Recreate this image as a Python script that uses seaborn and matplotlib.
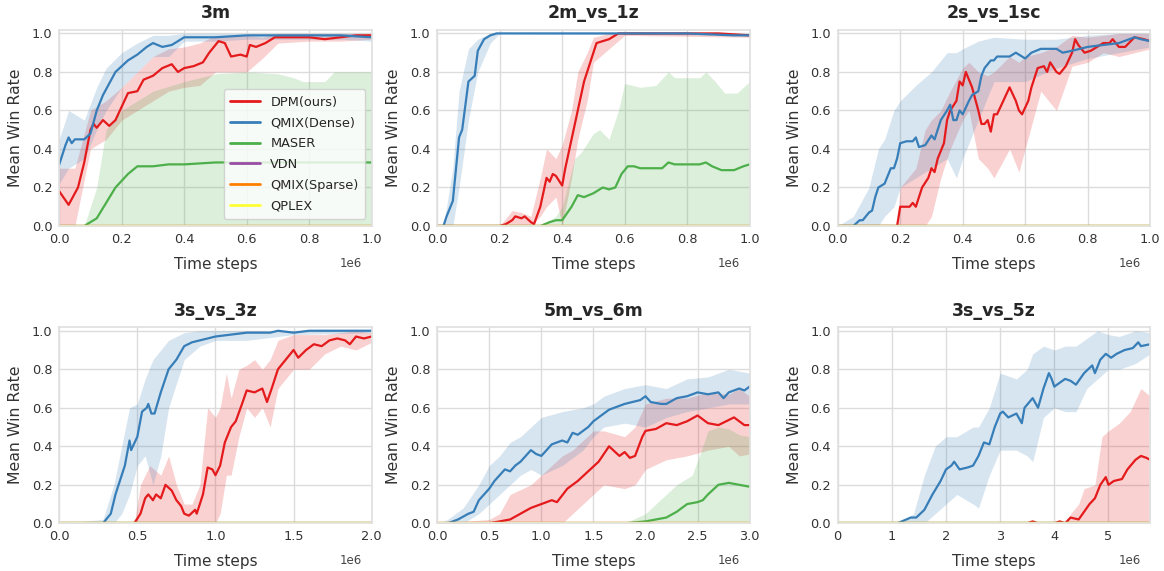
import numpy as np
import matplotlib
matplotlib.use("Agg")
import matplotlib.pyplot as plt
import seaborn as sns

# ---------------- data (x in units of 1e6 time steps) ----------------
titles = ["3m", "2m_vs_1z", "2s_vs_1sc", "3s_vs_3z", "5m_vs_6m", "3s_vs_5z"]
labels = ["DPM(ours)", "QMIX(Dense)", "MASER", "VDN", "QMIX(Sparse)", "QPLEX"]
x_max = [1.0, 1.0, 1.0, 2.0, 3.0, 5.77]
x_step = [0.2, 0.2, 0.2, 0.5, 0.5, 1.0]
zero_y = [0.0, 0.0]

# --- 3m ---
m3_red_x = [0, .03, .06, .08, .10, .11, .12, .14, .16, .18, .20, .22, .25, .27, .30, .33, .36, .38, .40, .43, .46, .48, .51, .53, .55, .58, .60, .61, .63, .66, .69, .72, .80, .85, .90, .95, 1.0]
m3_red_y = [.18, .11, .20, .33, .50, .53, .51, .55, .52, .55, .62, .69, .70, .76, .78, .82, .84, .80, .82, .83, .85, .90, .96, .95, .88, .89, .88, .94, .93, .95, .98, .98, .98, .97, .98, .99, .99]
m3_red_bx = [0, .05, .10, .15, .20, .25, .30, .35, .40, .45, .50, .55, .60, .65, .70, .80, .90, 1.0]
m3_red_lo = [0, 0, .40, .45, .55, .60, .65, .70, .72, .73, .80, .80, .80, .87, .95, .96, .96, .97]
m3_red_hi = [.30, .30, .60, .65, .72, .80, .88, .92, .93, .95, .99, .99, .99, .98, 1.0, 1.0, 1.0, 1.0]
m3_blue_x = [0, .02, .03, .04, .05, .08, .10, .12, .14, .16, .18, .20, .22, .25, .28, .30, .33, .36, .40, .45, .50, .60, .70, .80, .90, 1.0]
m3_blue_y = [.32, .42, .46, .43, .45, .45, .48, .60, .68, .74, .80, .83, .86, .89, .93, .95, .93, .94, .98, .98, .98, .99, .99, .99, .99, .98]
m3_blue_bx = [0, .03, .08, .12, .15, .20, .25, .30, .35, .40, .50, .60, .70, .80, .90, 1.0]
m3_blue_lo = [.22, .30, .35, .50, .60, .72, .80, .88, .88, .96, .96, .97, .97, .97, .97, .96]
m3_blue_hi = [.45, .60, .55, .72, .82, .90, .95, .99, .99, 1.0, 1.0, 1.0, 1.0, 1.0, 1.0, 1.0]
m3_green_x = [0, .08, .10, .12, .15, .18, .22, .25, .30, .35, .40, .50, .60, .70, .80, .90, 1.0]
m3_green_y = [0, 0, .02, .04, .12, .20, .27, .31, .31, .32, .32, .33, .33, .33, .33, .33, .33]
m3_green_bx = [0, .08, .12, .15, .20, .30, .40, .50, .60, .70, .75, .78, .85, .88, 1.0]
m3_green_lo = [0, 0, 0, 0, 0, 0, 0, 0, 0, 0, 0, 0, 0, 0, 0]
m3_green_hi = [0, 0, .20, .50, .60, .70, .75, .79, .80, .79, .77, .75, .75, .80, .80]

# --- 2m_vs_1z ---
z1_blue_x = [0, .02, .03, .05, .07, .08, .10, .12, .13, .15, .17, .19, .30, .50, .80, .95, 1.0]
z1_blue_y = [0, 0, .05, .13, .46, .50, .75, .78, .91, .97, .99, 1.0, 1.0, 1.0, 1.0, .99, .99]
z1_blue_bx = [0, .02, .05, .07, .10, .13, .17, .20, 1.0]
z1_blue_lo = [0, 0, 0, .20, .55, .80, .95, 1.0, .99]
z1_blue_hi = [0, 0, .30, .70, .92, .97, 1.0, 1.0, 1.0]
z1_red_x = [0, .20, .22, .24, .25, .27, .28, .30, .31, .33, .35, .36, .37, .38, .40, .41, .43, .45, .47, .48, .51, .53, .55, .58, .70, .90, 1.0]
z1_red_y = [0, 0, .01, .03, .05, .04, .05, .02, .01, .10, .25, .23, .27, .26, .21, .30, .45, .60, .75, .80, .95, .96, .97, 1.0, 1.0, 1.0, .99]
z1_red_bx = [0, .20, .24, .27, .30, .33, .35, .38, .40, .43, .45, .48, .50, .55, .60, 1.0]
z1_red_lo = [0, 0, 0, 0, 0, .05, .10, .15, 0, .25, .45, .65, .85, .92, .99, .98]
z1_red_hi = [0, 0, .08, .07, .05, .25, .40, .35, .42, .60, .80, .90, .98, 1.0, 1.0, 1.0]
z1_green_x = [0, .33, .36, .38, .40, .43, .45, .47, .50, .53, .55, .57, .59, .61, .63, .65, .72, .74, .76, .84, .86, .88, .91, .95, .98, 1.0]
z1_green_y = [0, 0, .02, .03, .03, .10, .16, .15, .17, .20, .19, .20, .27, .31, .31, .30, .30, .33, .32, .32, .33, .31, .29, .29, .31, .32]
z1_green_bx = [0, .33, .38, .40, .44, .46, .50, .52, .55, .58, .60, .65, .70, .74, .76, .84, .86, .89, .92, .96, 1.0]
z1_green_lo = [0, 0, 0, 0, 0, 0, 0, 0, 0, 0, 0, 0, 0, 0, 0, 0, 0, 0, 0, 0, 0]
z1_green_hi = [0, 0, .05, .10, .35, .38, .48, .50, .45, .60, .74, .72, .73, .80, .77, .77, .80, .75, .69, .69, .75]

# --- 2s_vs_1sc ---
sc_blue_x = [0, .05, .07, .08, .10, .11, .12, .13, .15, .17, .18, .19, .20, .22, .24, .25, .26, .28, .30, .31, .33, .35, .36, .37, .38, .39, .40, .42, .43, .45, .46, .47, .49, .50, .51, .55, .57, .58, .60, .62, .65, .70, .72, .75, .80, .85, .90, .95, .97, 1.0]
sc_blue_y = [0, 0, .03, .03, .07, .08, .15, .20, .22, .30, .30, .35, .43, .44, .44, .46, .41, .42, .47, .45, .55, .60, .63, .55, .55, .60, .58, .65, .68, .70, .78, .82, .86, .86, .88, .88, .90, .89, .87, .90, .92, .92, .90, .91, .93, .94, .95, .98, .97, .96]
sc_blue_bx = [0, .05, .10, .13, .15, .18, .20, .25, .30, .35, .38, .40, .45, .50, .60, .70, .80, .90, 1.0]
sc_blue_lo = [0, 0, 0, 0, .05, .10, .20, .25, .30, .35, .25, .35, .55, .75, .75, .82, .87, .90, .93]
sc_blue_hi = [0, .05, .20, .40, .45, .60, .65, .73, .80, .90, .90, .92, .96, .98, .97, .97, .99, 1.0, 1.0]
sc_red_x = [0, .19, .20, .23, .24, .25, .26, .27, .29, .30, .31, .32, .34, .35, .36, .38, .39, .40, .41, .43, .45, .46, .47, .48, .49, .50, .51, .53, .55, .57, .58, .59, .61, .62, .64, .66, .67, .68, .70, .71, .73, .75, .76, .77, .79, .81, .83, .85, .87, .88, .90, .92, .95, .98, 1.0]
sc_red_y = [0, 0, .10, .10, .12, .10, .15, .20, .25, .30, .28, .35, .43, .55, .60, .65, .75, .73, .80, .72, .60, .53, .53, .55, .49, .58, .58, .65, .72, .65, .60, .58, .65, .72, .82, .83, .80, .85, .80, .79, .83, .90, .97, .94, .90, .91, .93, .95, .95, .97, .93, .93, .98, .97, .96]
sc_red_bx = [.19, .20, .25, .28, .30, .33, .36, .40, .42, .45, .48, .50, .55, .58, .60, .65, .70, .75, .80, .85, .90, 1.0]
sc_red_lo = [0, 0, 0, 0, .05, .25, .40, .55, .60, .35, .30, .25, .40, .28, .40, .70, .60, .83, .85, .90, .88, .92]
sc_red_hi = [0, .20, .30, .50, .55, .60, .70, .82, .85, .80, .78, .80, .88, .85, .88, .90, .93, .99, .98, .99, 1.0, 1.0]

# --- 3s_vs_3z ---
s3_blue_x = [0, .28, .33, .36, .40, .42, .45, .46, .50, .53, .56, .57, .59, .61, .65, .70, .75, .80, .85, .90, 1.0, 1.1, 1.2, 1.35, 1.4, 1.5, 1.6, 1.8, 2.0]
s3_blue_y = [0, 0, .05, .15, .25, .30, .43, .38, .45, .58, .60, .62, .57, .57, .68, .80, .85, .92, .94, .95, .97, .98, .99, .99, 1.0, .99, 1.0, 1.0, 1.0]
s3_blue_bx = [0, .28, .35, .40, .45, .50, .55, .60, .65, .70, .80, .90, 1.0, 1.2, 1.5, 2.0]
s3_blue_lo = [0, 0, 0, .05, .15, .30, .35, .20, .35, .60, .85, .92, .95, .95, .98, .99]
s3_blue_hi = [0, .02, .20, .40, .60, .62, .75, .85, .90, .95, .99, 1.0, 1.0, 1.0, 1.0, 1.0]
s3_red_x = [0, .48, .52, .55, .57, .60, .62, .65, .68, .72, .75, .78, .80, .83, .87, .88, .92, .95, .98, 1.0, 1.03, 1.06, 1.1, 1.13, 1.17, 1.2, 1.25, 1.3, 1.33, 1.36, 1.4, 1.45, 1.5, 1.53, 1.58, 1.63, 1.68, 1.73, 1.78, 1.83, 1.86, 1.9, 1.95, 2.0]
s3_red_y = [0, 0, .05, .13, .15, .12, .15, .13, .20, .17, .12, .09, .05, .04, .07, .05, .15, .29, .28, .25, .30, .42, .50, .53, .62, .69, .68, .70, .63, .70, .80, .85, .90, .86, .90, .93, .92, .95, .96, .95, .93, .97, .96, .97]
s3_red_bx = [0, .48, .52, .58, .65, .70, .75, .80, .85, .90, .95, 1.0, 1.03, 1.07, 1.1, 1.15, 1.2, 1.25, 1.3, 1.35, 1.4, 1.5, 1.6, 1.7, 1.8, 1.9, 2.0]
s3_red_lo = [0, 0, 0, 0, 0, 0, 0, 0, 0, 0, 0, 0, .05, .25, .25, .45, .60, .55, .60, .50, .70, .80, .80, .88, .92, .90, .94]
s3_red_hi = [0, 0, .20, .30, .25, .35, .20, .10, .10, .20, .60, .55, .60, .78, .65, .80, .82, .85, .80, .85, .95, .98, .98, .98, .99, 1.0, .99]

# --- 5m_vs_6m ---
m5_blue_x = [0, .10, .20, .30, .35, .40, .50, .55, .65, .70, .75, .80, .85, .90, .95, 1.0, 1.05, 1.1, 1.2, 1.25, 1.3, 1.35, 1.45, 1.5, 1.55, 1.65, 1.7, 1.8, 1.95, 2.0, 2.05, 2.15, 2.2, 2.3, 2.4, 2.5, 2.6, 2.7, 2.75, 2.8, 2.9, 2.95, 3.0]
m5_blue_y = [0, 0, .02, .05, .06, .12, .18, .22, .28, .27, .30, .32, .35, .38, .36, .35, .38, .41, .43, .42, .47, .46, .50, .53, .55, .59, .60, .62, .64, .66, .63, .62, .62, .65, .66, .68, .67, .68, .65, .68, .70, .69, .71]
m5_blue_bx = [0, .10, .25, .40, .50, .60, .70, .80, .90, 1.0, 1.2, 1.4, 1.5, 1.6, 1.8, 2.0, 2.2, 2.4, 2.6, 2.8, 3.0]
m5_blue_lo = [0, 0, 0, .05, .10, .15, .20, .25, .28, .25, .30, .38, .45, .50, .52, .50, .55, .58, .60, .62, .62]
m5_blue_hi = [0, .02, .08, .20, .30, .35, .42, .45, .50, .55, .58, .60, .62, .66, .70, .72, .70, .75, .76, .80, .78]
m5_red_x = [0, .50, .60, .70, .80, .90, 1.0, 1.1, 1.15, 1.25, 1.35, 1.45, 1.55, 1.6, 1.65, 1.75, 1.8, 1.85, 1.9, 1.97, 2.0, 2.1, 2.2, 2.3, 2.4, 2.5, 2.6, 2.7, 2.85, 2.95, 3.0]
m5_red_y = [0, 0, .01, .02, .05, .08, .10, .12, .11, .18, .22, .27, .32, .36, .40, .35, .37, .34, .35, .45, .48, .49, .52, .51, .53, .56, .52, .51, .55, .51, .51]
m5_red_bx = [0, .50, .60, .70, .90, 1.0, 1.2, 1.3, 1.5, 1.6, 1.8, 1.9, 2.0, 2.2, 2.4, 2.6, 2.8, 2.9, 3.0]
m5_red_lo = [0, 0, 0, 0, 0, 0, 0, .05, .15, .20, .18, .20, .28, .33, .35, .38, .40, .35, .36]
m5_red_hi = [0, .02, .05, .15, .20, .25, .35, .38, .48, .48, .45, .50, .62, .65, .65, .68, .67, .70, .66]
m5_green_x = [0, 1.8, 2.0, 2.1, 2.2, 2.3, 2.4, 2.5, 2.55, 2.6, 2.7, 2.8, 2.9, 3.0]
m5_green_y = [0, 0, .01, .02, .03, .06, .10, .11, .12, .15, .20, .21, .20, .19]
m5_green_bx = [0, 1.8, 2.0, 2.1, 2.3, 2.45, 2.55, 2.6, 2.7, 2.8, 2.9, 3.0]
m5_green_lo = [0, 0, 0, 0, 0, 0, 0, 0, 0, 0, 0, 0]
m5_green_hi = [0, 0, .05, .10, .20, .25, .40, .48, .50, .49, .46, .45]

# --- 3s_vs_5z ---
z5_blue_x = [0, 1.10, 1.35, 1.45, 1.60, 1.75, 1.90, 2.00, 2.10, 2.15, 2.25, 2.40, 2.50, 2.60, 2.70, 2.80, 2.90, 3.00, 3.05, 3.15, 3.30, 3.40, 3.45, 3.60, 3.70, 3.80, 3.90, 3.95, 4.00, 4.20, 4.30, 4.40, 4.55, 4.70, 4.75, 4.85, 4.95, 5.05, 5.15, 5.30, 5.45, 5.55, 5.60, 5.77]
z5_blue_y = [0, 0, .03, .03, .07, .15, .22, .28, .30, .32, .28, .29, .30, .35, .42, .41, .50, .57, .58, .55, .57, .52, .60, .65, .60, .70, .78, .75, .71, .75, .74, .72, .78, .82, .78, .85, .88, .86, .88, .90, .91, .94, .92, .93]
z5_blue_bx = [0, 1.10, 1.40, 1.60, 1.80, 2.00, 2.20, 2.50, 2.60, 2.80, 3.00, 3.30, 3.50, 3.60, 3.80, 4.00, 4.20, 4.40, 4.60, 4.80, 5.00, 5.20, 5.50, 5.77]
z5_blue_lo = [0, 0, 0, 0, .05, .10, .15, .10, .08, .25, .38, .38, .35, .32, .55, .60, .58, .58, .70, .75, .80, .80, .83, .88]
z5_blue_hi = [0, 0, .05, .25, .40, .45, .45, .50, .50, .60, .78, .75, .80, .88, .92, .90, .92, .92, .96, 1.0, .98, .97, 1.0, .99]
z5_red_x = [0, 3.50, 3.60, 3.70, 4.00, 4.10, 4.20, 4.30, 4.45, 4.55, 4.65, 4.75, 4.85, 4.95, 5.00, 5.10, 5.25, 5.35, 5.50, 5.60, 5.70, 5.77]
z5_red_y = [0, 0, .01, 0, 0, .01, 0, .03, .02, .06, .10, .13, .20, .24, .20, .22, .23, .28, .33, .35, .34, .33]
z5_red_bx = [0, 4.20, 4.30, 4.45, 4.55, 4.75, 4.88, 5.00, 5.20, 5.40, 5.60, 5.77]
z5_red_lo = [0, 0, 0, 0, 0, 0, 0, 0, 0, 0, 0, 0]
z5_red_hi = [0, 0, .05, .10, .18, .20, .45, .48, .52, .58, .70, .66]

# panel -> list of (series index, x, y, band x, band lo, band hi)
panels = [
    [(0, m3_red_x, m3_red_y, m3_red_bx, m3_red_lo, m3_red_hi),
     (1, m3_blue_x, m3_blue_y, m3_blue_bx, m3_blue_lo, m3_blue_hi),
     (2, m3_green_x, m3_green_y, m3_green_bx, m3_green_lo, m3_green_hi)],
    [(0, z1_red_x, z1_red_y, z1_red_bx, z1_red_lo, z1_red_hi),
     (1, z1_blue_x, z1_blue_y, z1_blue_bx, z1_blue_lo, z1_blue_hi),
     (2, z1_green_x, z1_green_y, z1_green_bx, z1_green_lo, z1_green_hi)],
    [(0, sc_red_x, sc_red_y, sc_red_bx, sc_red_lo, sc_red_hi),
     (1, sc_blue_x, sc_blue_y, sc_blue_bx, sc_blue_lo, sc_blue_hi)],
    [(0, s3_red_x, s3_red_y, s3_red_bx, s3_red_lo, s3_red_hi),
     (1, s3_blue_x, s3_blue_y, s3_blue_bx, s3_blue_lo, s3_blue_hi)],
    [(0, m5_red_x, m5_red_y, m5_red_bx, m5_red_lo, m5_red_hi),
     (1, m5_blue_x, m5_blue_y, m5_blue_bx, m5_blue_lo, m5_blue_hi),
     (2, m5_green_x, m5_green_y, m5_green_bx, m5_green_lo, m5_green_hi)],
    [(0, z5_red_x, z5_red_y, z5_red_bx, z5_red_lo, z5_red_hi),
     (1, z5_blue_x, z5_blue_y, z5_blue_bx, z5_blue_lo, z5_blue_hi)],
]

# ---------------- plotting ----------------
sns.set_theme(style="whitegrid")
plt.rcParams['font.family'] = ['DejaVu Sans']
plt.rcParams['grid.color'] = '#dcdcdc'

palette = sns.color_palette("Set1", 6)
SCALE = 1e6

fig, axes = plt.subplots(2, 3, figsize=(11.64, 5.71), dpi=100)
col_left = [0.0509, 0.3756, 0.7197]
row_bottom = [0.6042, 0.0835]
ax_w, ax_h = 0.2684, 0.3440
for r in range(2):
    for c in range(3):
        axes[r, c].set_position([col_left[c], row_bottom[r], ax_w, ax_h])

for k, ax in enumerate(axes.flat):
    present = {p[0]: p for p in panels[k]}
    for s in range(6):
        c = palette[s]
        if s in present:
            _, x, y, bx, lo, hi = present[s]
            ax.fill_between(np.asarray(bx) * SCALE, lo, hi, color=c, alpha=0.2, linewidth=0)
            sns.lineplot(x=np.asarray(x) * SCALE, y=y, ax=ax, color=c, linewidth=1.6,
                         label=labels[s], legend=False)
        else:
            sns.lineplot(x=[0, x_max[k] * SCALE], y=zero_y, ax=ax, color=c, linewidth=1.6,
                         label=labels[s], legend=False)
    ax.set_xlim(0, x_max[k] * SCALE)
    ax.set_ylim(0, 1.02)
    ax.set_xticks(np.arange(0, x_max[k] + 1e-9, x_step[k]) * SCALE)
    ax.set_yticks([0, 0.2, 0.4, 0.6, 0.8, 1.0])
    ax.tick_params(labelsize=9.3, length=0, pad=5, colors='#333333')
    ax.xaxis.OFFSETTEXTPAD = 8
    off = ax.xaxis.get_offset_text()
    off.set_fontsize(8.5)
    off.set_color('#444444')
    off.set_x(0.97)
    ax.set_xlabel("Time steps", fontsize=11, color='#333333', labelpad=8)
    ax.set_ylabel("Mean Win Rate", fontsize=11.3, color='#333333', labelpad=6)
    ax.set_title(titles[k], fontsize=12.5, fontweight='bold', pad=8)
    for sp in ax.spines.values():
        sp.set_color('#e0e0e0')

leg = axes[0, 0].legend(loc='lower right', bbox_to_anchor=(0.979, 0.036), borderaxespad=0,
                        fontsize=9.3, framealpha=0.8, borderpad=0.5, handlelength=2.3,
                        labelspacing=0.6)
for line in leg.get_lines():
    line.set_linewidth(2.0)

fig.savefig("out.png", dpi=100)
